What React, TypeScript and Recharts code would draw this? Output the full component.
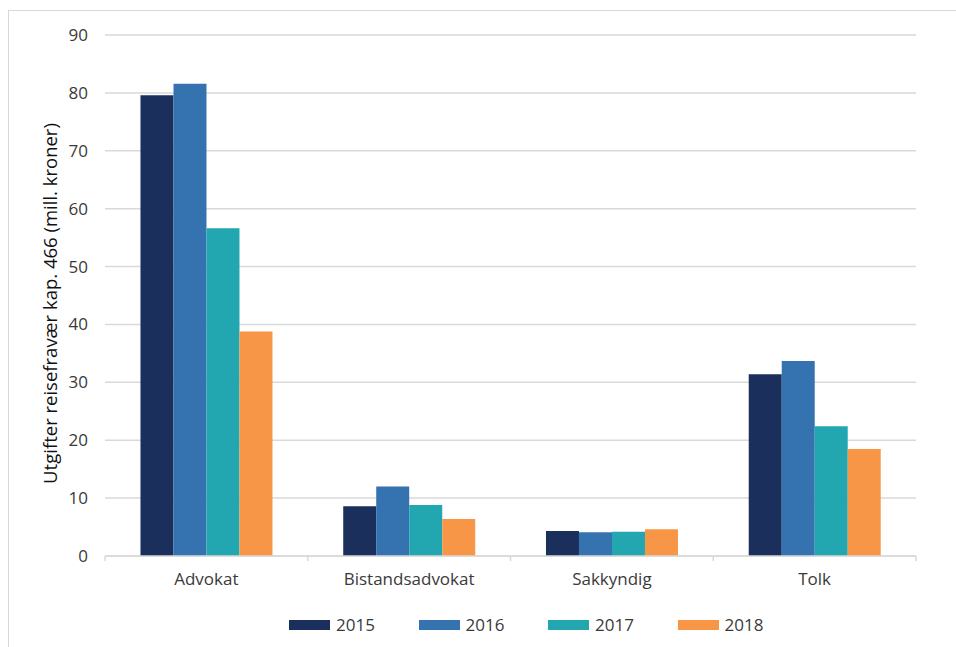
import React from 'react';
import { BarChart, Bar, XAxis, YAxis, CartesianGrid, Legend } from 'recharts';

const categories = ['Advokat', 'Bistandsadvokat', 'Sakkyndig', 'Tolk'];
const years = ['2015', '2016', '2017', '2018'];
const values2015 = [79.6, 8.6, 4.3, 31.4];
const values2016 = [81.6, 12.0, 4.1, 33.7];
const values2017 = [56.6, 8.8, 4.2, 22.4];
const values2018 = [38.8, 6.4, 4.6, 18.5];
const yTicks = [0, 10, 20, 30, 40, 50, 60, 70, 80, 90];
const colors = ['#1a2f5c', '#3572b0', '#22a6b0', '#f79646'];
const yLabel = 'Utgifter reisefravær kap. 466 (mill. kroner)';

const data = categories.map((c, i) => ({
  name: c,
  '2015': values2015[i],
  '2016': values2016[i],
  '2017': values2017[i],
  '2018': values2018[i],
}));

const FONT = '"Open Sans", "Noto Sans", sans-serif';
const TEXT = '#3a3a3a';
const GRID = '#d9d9d9';

const XTick = (props: any) => {
  const { x, y, payload, index, visibleTicksCount } = props;
  const off = payload.offset || 0;
  const axisY = y - 17;
  return (
    <g>
      <line x1={x - off} x2={x - off} y1={axisY} y2={axisY + 5} stroke={GRID} strokeWidth={1.5} />
      {index === (visibleTicksCount ?? categories.length) - 1 && (
        <line x1={x + off} x2={x + off} y1={axisY} y2={axisY + 5} stroke={GRID} strokeWidth={1.5} />
      )}
      <text x={x} y={y} dy="0.71em" textAnchor="middle" fill={TEXT} fontSize={17} fontFamily={FONT}>
        {payload.value}
      </text>
    </g>
  );
};

const LegendContent = (props: any) => {
  const { payload } = props;
  return (
    <div style={{ display: 'flex', alignItems: 'center' }}>
      {(payload || []).map((p: any) => (
        <div key={p.value} style={{ display: 'flex', alignItems: 'center', width: 129.5 }}>
          <div style={{ width: 41, height: 10, background: p.color, marginRight: 6 }} />
          <span style={{ fontFamily: FONT, fontSize: 17, color: TEXT, lineHeight: '20px' }}>{p.value}</span>
        </div>
      ))}
    </div>
  );
};

const YLabel = (props: any) => {
  const { viewBox } = props;
  const cx = viewBox.x + 49;
  const cy = viewBox.y + viewBox.height / 2 + 8;
  return (
    <text
      x={cx}
      y={cy}
      transform={`rotate(-90, ${cx}, ${cy})`}
      textAnchor="middle"
      dominantBaseline="central"
      fill="#111"
      fontSize={18.5}
      fontFamily={FONT}
    >
      {yLabel}
    </text>
  );
};

export default function App() {
  return (
    <div style={{ position: 'absolute', left: 0, top: 0, width: 956, height: 647, overflow: 'hidden', background: '#fff' }}>
      <div
        style={{
          position: 'absolute',
          left: 8,
          top: 10,
          width: 1000,
          height: 700,
          border: '1.5px solid #d9d9d9',
          boxSizing: 'border-box',
        }}
      />
      <div style={{ position: 'absolute', left: 0, top: 0 }}>
        <BarChart
          width={956}
          height={647}
          data={data}
          margin={{ top: 35, right: 0, left: 0, bottom: 61 }}
          barCategoryGap="17.5%"
          barGap={0}
        >
          <CartesianGrid vertical={false} stroke={GRID} strokeWidth={1.5} yAxisId="left" />
          <XAxis
            dataKey="name"
            height={30}
            axisLine={{ stroke: GRID, strokeWidth: 1.5 }}
            tickLine={false}
            tickSize={6}
            tickMargin={11}
            tick={<XTick />}
            interval={0}
          />
          <YAxis
            yAxisId="left"
            orientation="left"
            width={105}
            domain={[0, 90]}
            ticks={yTicks}
            axisLine={false}
            tickLine={false}
            tickSize={6}
            tickMargin={11}
            tick={{ fill: TEXT, fontSize: 17, fontFamily: FONT }}
            label={<YLabel />}
          />
          <YAxis
            yAxisId="right"
            orientation="right"
            width={40}
            domain={[0, 90]}
            ticks={yTicks}
            axisLine={false}
            tickLine={false}
            tickSize={6}
            tickMargin={12}
            tick={{ fill: TEXT, fontSize: 17, fontFamily: FONT, textAnchor: 'start' }}
          />
          {years.map((yr, i) => (
            <Bar key={yr} yAxisId="left" dataKey={yr} name={yr} fill={colors[i]} isAnimationActive={false} />
          ))}
          <Legend
            layout="horizontal"
            verticalAlign="middle"
            align="center"
            content={<LegendContent />}
            wrapperStyle={{ position: 'absolute', left: 289, top: 615, width: 560, height: 20 }}
          />
        </BarChart>
      </div>
    </div>
  );
}
